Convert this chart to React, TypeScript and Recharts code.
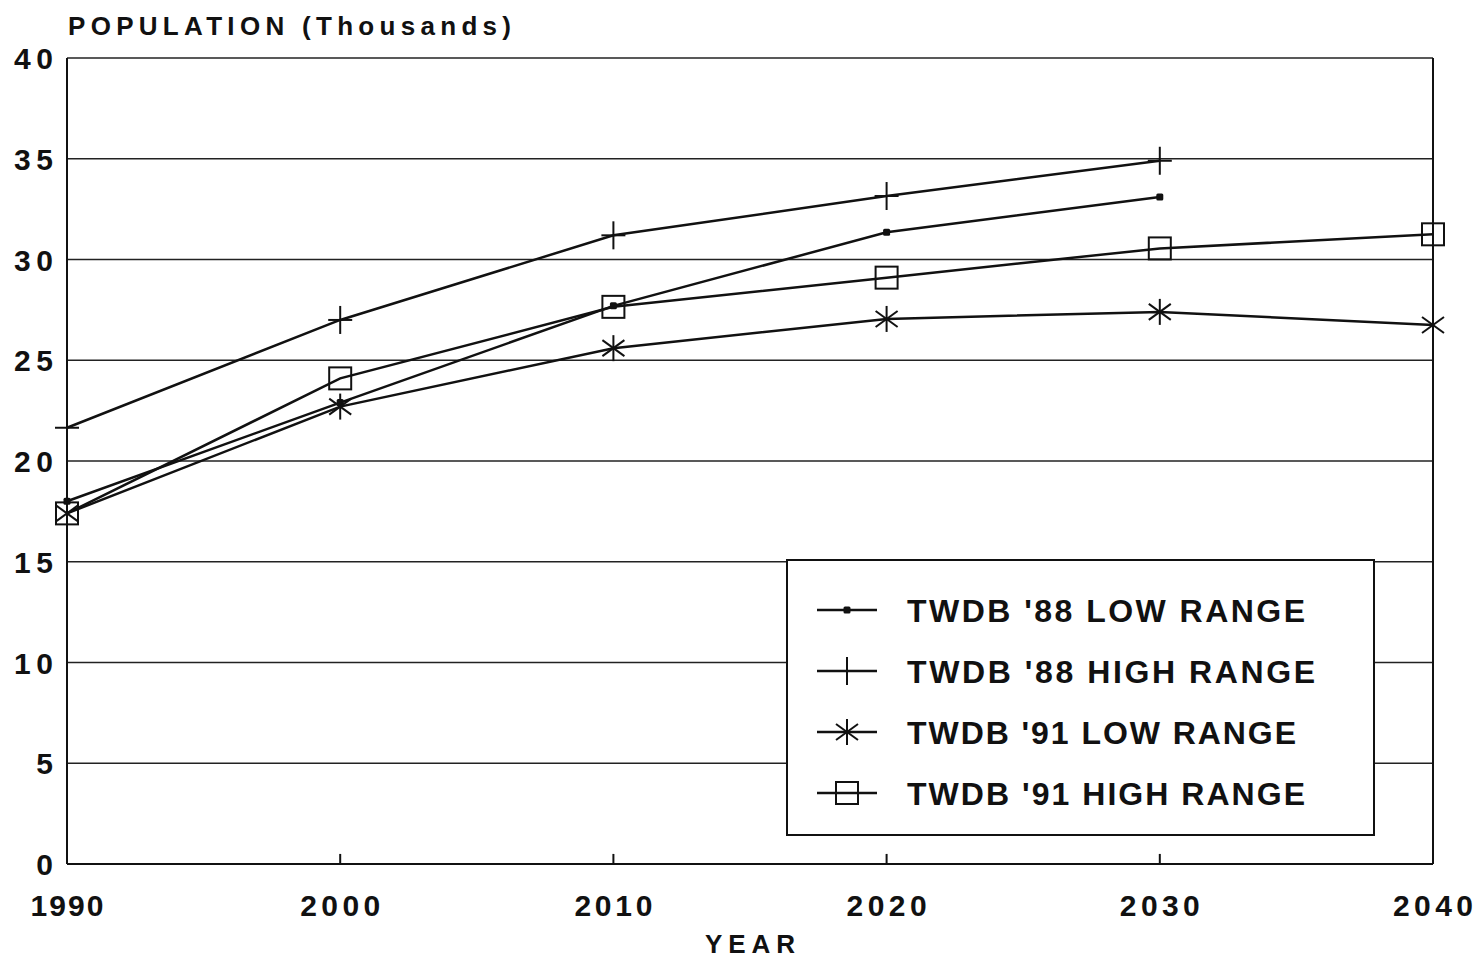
import React from 'react';
import { LineChart, Line, XAxis, YAxis, CartesianGrid, ReferenceLine, Legend } from 'recharts';

const years = [1990, 2000, 2010, 2020, 2030, 2040];
const low88: (number | null)[] = [18.0, 22.9, 27.7, 31.35, 33.1, null];
const high88: (number | null)[] = [21.65, 27.0, 31.2, 33.15, 34.9, null];
const low91: (number | null)[] = [17.4, 22.7, 25.6, 27.05, 27.4, 26.75];
const high91: (number | null)[] = [17.4, 24.1, 27.65, 29.1, 30.55, 31.25];

const xTicks = [1990, 2000, 2010, 2020, 2030, 2040];
const yTicks = [0, 5, 10, 15, 20, 25, 30, 35, 40];
const xTickWidths: Record<number, number> = { 1990: 73, 2000: 80, 2010: 78, 2020: 80, 2030: 80, 2040: 80 };

const seriesNames = ["TWDB '88 LOW RANGE", "TWDB '88 HIGH RANGE", "TWDB '91 LOW RANGE", "TWDB '91 HIGH RANGE"];
const seriesKeys = ['low88', 'high88', 'low91', 'high91'];
const seriesMarkers = ['dot', 'plus', 'star', 'square'];
const legendTextWidths = [398, 408, 389, 398];

const data = years.map((y, i) => ({
  year: y,
  low88: low88[i],
  high88: high88[i],
  low91: low91[i],
  high91: high91[i],
}));

const FONT = '"Liberation Sans", Arial, Helvetica, sans-serif';
const INK = '#111';

function Marker({ kind, cx, cy }: { kind: string; cx: number; cy: number }) {
  if (kind === 'dot') {
    return <rect x={cx - 3.5} y={cy - 3.5} width={7} height={7} rx={1.5} fill={INK} />;
  }
  if (kind === 'plus') {
    return (
      <g stroke={INK} strokeWidth={2}>
        <line x1={cx} y1={cy - 14} x2={cx} y2={cy + 14} />
        <line x1={cx - 12} y1={cy} x2={cx + 12} y2={cy} />
      </g>
    );
  }
  if (kind === 'star') {
    return (
      <g stroke={INK} strokeWidth={2}>
        <line x1={cx} y1={cy - 13} x2={cx} y2={cy + 13} />
        <line x1={cx - 11} y1={cy - 8} x2={cx + 11} y2={cy + 8} />
        <line x1={cx - 11} y1={cy + 8} x2={cx + 11} y2={cy - 8} />
      </g>
    );
  }
  return <rect x={cx - 11} y={cy - 11} width={22} height={22} fill="none" stroke={INK} strokeWidth={2} />;
}

const makeDot = (kind: string) => (props: any) => {
  const { cx, cy, index, value } = props;
  if (cx == null || cy == null || value == null || Number.isNaN(cy)) {
    return <g key={`e-${kind}-${index}`} />;
  }
  return (
    <g key={`d-${kind}-${index}`}>
      <Marker kind={kind} cx={cx} cy={cy} />
    </g>
  );
};

const XTick = (props: any) => {
  const { x, y, payload } = props;
  const v = payload.value as number;
  return (
    <text
      x={x}
      y={y + 50}
      textAnchor="middle"
      fontFamily={FONT}
      fontWeight="bold"
      fontSize={30}
      fill={INK}
      textLength={xTickWidths[v]}
      lengthAdjust="spacing"
    >
      {String(v)}
    </text>
  );
};

const YTick = (props: any) => {
  const { x, y, payload } = props;
  const s = String(payload.value);
  return (
    <text
      x={x - 12}
      y={y + 11}
      textAnchor="end"
      fontFamily={FONT}
      fontWeight="bold"
      fontSize={30}
      fill={INK}
      textLength={s.length === 2 ? 39 : 17}
      lengthAdjust="spacing"
    >
      {s}
    </text>
  );
};

const XLabel = (props: any) => {
  const { viewBox } = props;
  const cx = viewBox.x + viewBox.width / 2;
  return (
    <text x={cx} y={viewBox.y + 89} textAnchor="middle" fontFamily={FONT} fontWeight="bold" fontSize={26} fill={INK} textLength={90} lengthAdjust="spacing">
      YEAR
    </text>
  );
};

const YLabel = (props: any) => {
  const { viewBox } = props;
  return (
    <text x={viewBox.x + viewBox.width + 1} y={viewBox.y - 23} textAnchor="start" fontFamily={FONT} fontWeight="bold" fontSize={26} fill={INK} textLength={443} lengthAdjust="spacing">
      POPULATION (Thousands)
    </text>
  );
};

const LegendBox = () => {
  const rows = [611, 672, 733, 794];
  return (
    <svg width={590} height={278} style={{ display: 'block' }}>
      <rect x={1} y={1} width={587} height={275} fill="#fff" stroke={INK} strokeWidth={2} />
      {seriesNames.map((name, i) => {
        const cy = rows[i] - 560;
        return (
          <g key={name}>
            <line x1={31} y1={cy} x2={91} y2={cy} stroke={INK} strokeWidth={2.5} />
            <Marker kind={seriesMarkers[i]} cx={61} cy={cy} />
            <text
              x={121}
              y={cy + 12}
              fontFamily={FONT}
              fontWeight="bold"
              fontSize={32}
              fill={INK}
              textLength={legendTextWidths[i]}
              lengthAdjust="spacing"
            >
              {name}
            </text>
          </g>
        );
      })}
    </svg>
  );
};

export default function App() {
  return (
    <div style={{ position: 'absolute', left: 0, top: 0, width: 1482, height: 962, background: '#fff' }}>
      <LineChart
        width={1482}
        height={962}
        data={data}
        margin={{ top: 58, right: 49, bottom: 68, left: 7 }}
      >
        <CartesianGrid horizontal vertical={false} stroke="#222" strokeWidth={1.5} />
        <XAxis
          dataKey="year"
          type="number"
          domain={[1990, 2040]}
          ticks={xTicks}
          tickSize={0}
          tickLine={false}
          height={30}
          axisLine={{ stroke: INK, strokeWidth: 2 }}
          tick={<XTick />}
          label={<XLabel />}
          interval={0}
        />
        <YAxis
          type="number"
          domain={[0, 40]}
          ticks={yTicks}
          tickSize={0}
          tickLine={false}
          width={60}
          axisLine={{ stroke: INK, strokeWidth: 2 }}
          tick={<YTick />}
          label={<YLabel />}
          interval={0}
        />
        <ReferenceLine x={2040} stroke={INK} strokeWidth={2} />
        {xTicks.slice(1, 5).map((t) => (
          <ReferenceLine
            key={`tk-${t}`}
            segment={[{ x: t, y: 0 }, { x: t, y: 0.5 }]}
            stroke={INK}
            strokeWidth={2}
          />
        ))}
        {seriesKeys.map((k, i) => (
          <Line
            key={k}
            dataKey={k}
            name={seriesNames[i]}
            type="linear"
            stroke={INK}
            strokeWidth={2.5}
            dot={makeDot(seriesMarkers[i])}
            activeDot={false}
            connectNulls={false}
            isAnimationActive={false}
          />
        ))}
        <Legend
          layout="vertical"
          align="center"
          verticalAlign="middle"
          content={<LegendBox />}
          wrapperStyle={{ left: 786, top: 559, width: 590, height: 278 }}
        />
      </LineChart>
    </div>
  );
}
